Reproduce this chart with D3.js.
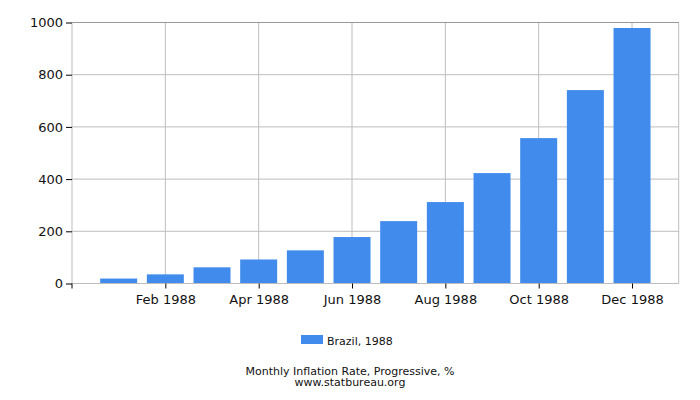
<!DOCTYPE html>
<html><head><meta charset="utf-8">
<script src="https://cdn.jsdelivr.net/npm/d3@7"></script>
<style>body{margin:0;background:#fff;font-family:"DejaVu Sans",sans-serif;}</style>
</head><body><svg id="c" width="700" height="400"></svg>
<script>
const months = ["Jan 1988","Feb 1988","Mar 1988","Apr 1988","May 1988","Jun 1988","Jul 1988","Aug 1988","Sep 1988","Oct 1988","Nov 1988","Dec 1988"];
const values = [19, 35, 62, 92, 127, 178, 239, 312, 423, 557, 741, 979];
const xTickLabels = ["Feb 1988","Apr 1988","Jun 1988","Aug 1988","Oct 1988","Dec 1988"];
const yTicks = [0, 200, 400, 600, 800, 1000];
const seriesName = "Brazil, 1988";
const title = "Monthly Inflation Rate, Progressive, %";
const source = "www.statbureau.org";

const svg = d3.select("#c");
const L = 72, R = 678.7, T = 22.5, B = 283.5;
const x = d3.scaleLinear().domain([0, 13]).range([L, R]);
const y = d3.scaleLinear().domain([0, 1000]).range([B, T]);
const barW = 37;
const color = "#418bed";
const grid = "#bdbdbd";

// grid
svg.append("g").selectAll("line").data(yTicks).join("line")
  .attr("x1", L).attr("x2", R).attr("y1", d => y(d)).attr("y2", d => y(d))
  .attr("stroke", grid).attr("stroke-width", 1);
const xt = xTickLabels.map(l => months.indexOf(l) + 1);
svg.append("g").selectAll("line").data(xt).join("line")
  .attr("x1", d => x(d)).attr("x2", d => x(d)).attr("y1", T).attr("y2", B)
  .attr("stroke", grid).attr("stroke-width", 1);
svg.append("line").attr("x1", R).attr("x2", R).attr("y1", T).attr("y2", B).attr("stroke", grid);
svg.append("line").attr("x1", L).attr("x2", R).attr("y1", T).attr("y2", T).attr("stroke", "#999");

// bars
svg.append("g").selectAll("rect").data(values).join("rect")
  .attr("x", (d, i) => x(i + 1) - barW / 2).attr("width", barW)
  .attr("y", d => y(d)).attr("height", d => B - y(d))
  .attr("fill", color);

// axes
const yAxis = d3.axisLeft(y).tickValues(yTicks).tickSize(6).tickPadding(3).tickFormat(d3.format("d"));
const gy = svg.append("g").attr("transform", `translate(${L},0)`).call(yAxis);
gy.select(".domain").attr("stroke", grid).attr("d", `M0,${T}V${B}`);
gy.selectAll(".tick line").attr("stroke", "#000");
gy.selectAll("text").attr("font-family", "DejaVu Sans").attr("font-size", 13).attr("fill", "#111");

const xAxis = d3.axisBottom(x).tickValues(xt).tickSize(5).tickPadding(6)
  .tickFormat(d => months[d - 1]);
const gx = svg.append("g").attr("transform", `translate(0,${B})`).call(xAxis);
gx.select(".domain").attr("stroke", grid).attr("d", `M${L},0H${R}`);
gx.selectAll("text").attr("font-family", "DejaVu Sans").attr("font-size", 13).attr("fill", "#111");
svg.append("line").attr("x1", L).attr("x2", L).attr("y1", B).attr("y2", B + 5).attr("stroke", "#000");

// legend
svg.append("rect").attr("x", 301).attr("y", 335).attr("width", 22).attr("height", 9).attr("fill", color);
svg.append("text").attr("x", 327).attr("y", 345).text(seriesName)
  .attr("font-family", "DejaVu Sans").attr("font-size", 11).attr("fill", "#111");

svg.append("text").attr("x", 350).attr("y", 374.5).attr("text-anchor", "middle").text(title)
  .attr("font-family", "DejaVu Sans").attr("font-size", 11).attr("fill", "#111");
svg.append("text").attr("x", 350).attr("y", 386).attr("text-anchor", "middle").text(source)
  .attr("font-family", "DejaVu Sans").attr("font-size", 11).attr("fill", "#111");
</script></body></html>
